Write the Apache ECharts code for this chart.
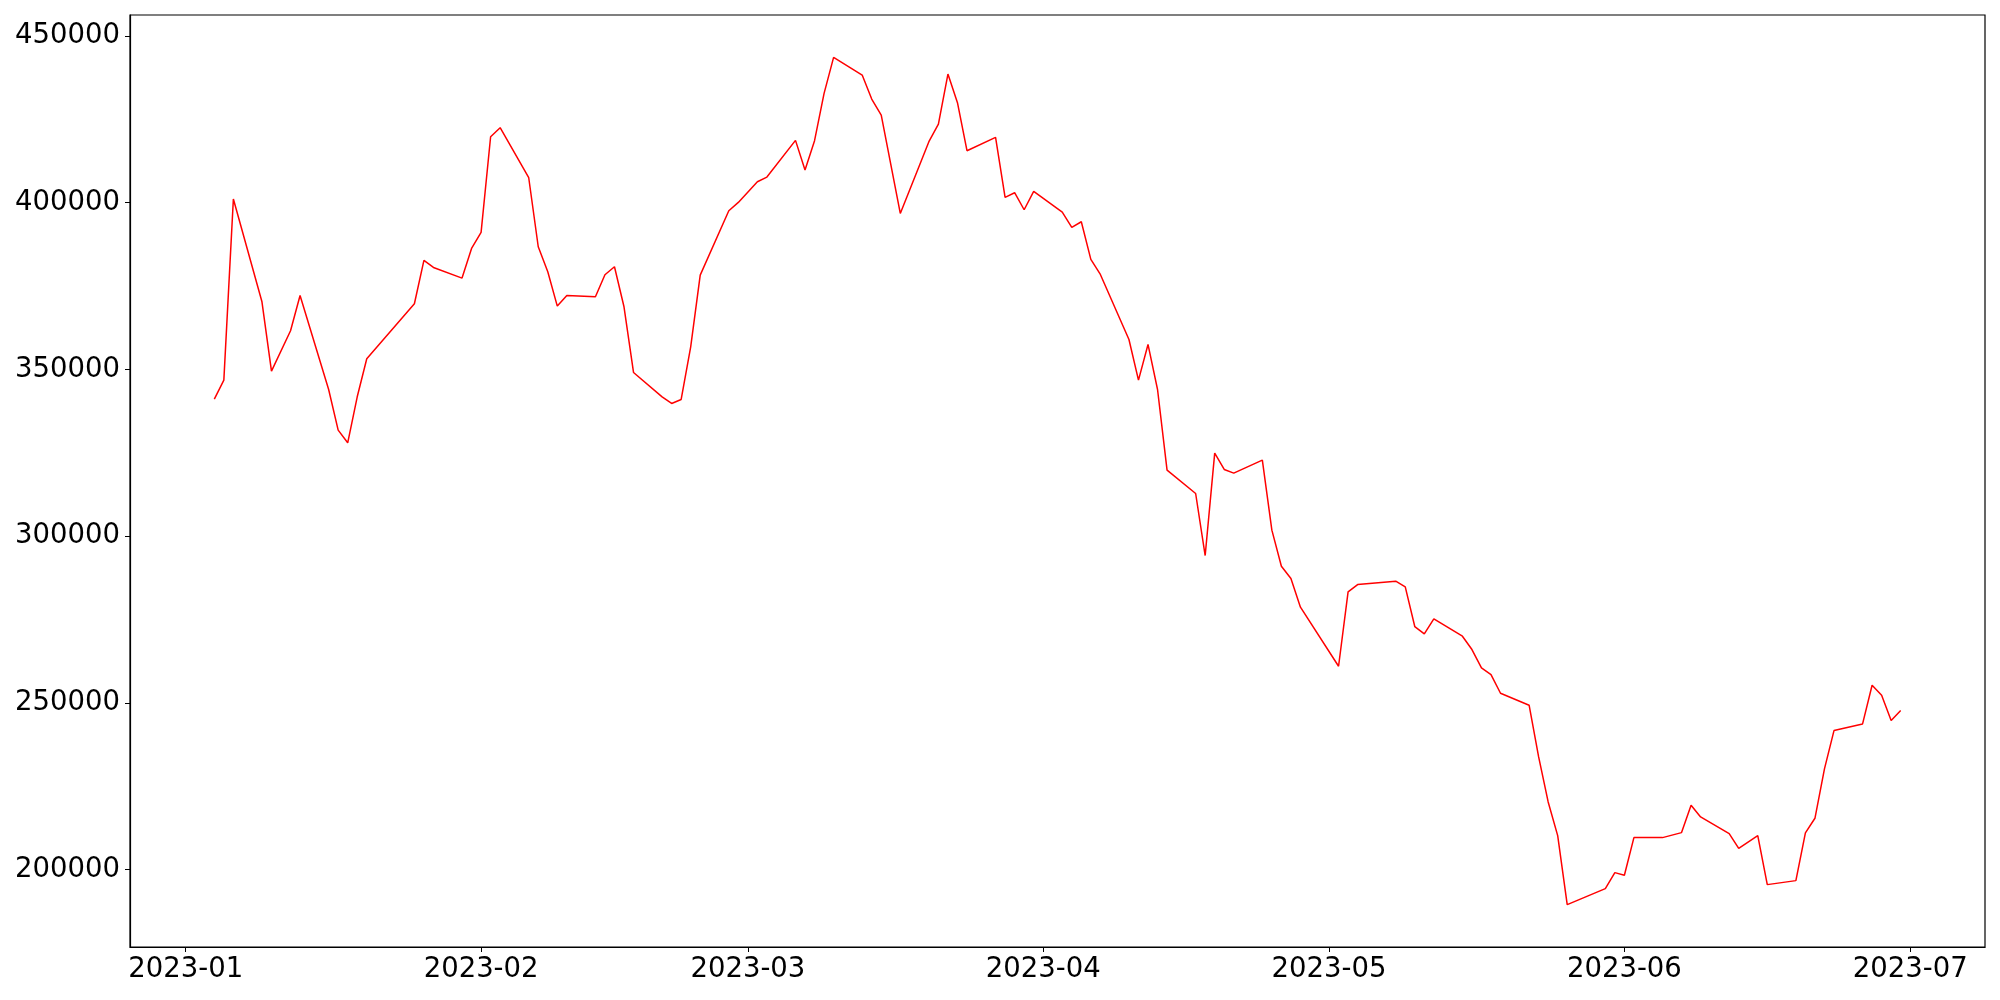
<!DOCTYPE html>
<html>
<head>
<meta charset="utf-8">
<script src="https://cdn.jsdelivr.net/npm/echarts@6/dist/echarts.min.js"></script>
<style>
html,body{margin:0;padding:0;background:#fff;}
#chart{width:2000px;height:1000px;}
</style>
</head>
<body>
<div id="chart"></div>
<script>
const dates = [
"2023-01-04","2023-01-05","2023-01-06","2023-01-09","2023-01-10","2023-01-12","2023-01-13",
"2023-01-16","2023-01-17","2023-01-18","2023-01-19","2023-01-20","2023-01-25","2023-01-26",
"2023-01-27","2023-01-30","2023-01-31","2023-02-01","2023-02-02","2023-02-03","2023-02-06",
"2023-02-07","2023-02-08","2023-02-09","2023-02-10","2023-02-13","2023-02-14","2023-02-15",
"2023-02-16","2023-02-17","2023-02-20","2023-02-21","2023-02-22","2023-02-23","2023-02-24",
"2023-02-27","2023-02-28","2023-03-02","2023-03-03","2023-03-06","2023-03-07","2023-03-08",
"2023-03-09","2023-03-10","2023-03-13","2023-03-14","2023-03-15","2023-03-17","2023-03-20",
"2023-03-21","2023-03-22","2023-03-23","2023-03-24","2023-03-27","2023-03-28","2023-03-29",
"2023-03-30","2023-03-31","2023-04-03","2023-04-04","2023-04-05","2023-04-06","2023-04-07",
"2023-04-10","2023-04-11","2023-04-12","2023-04-13","2023-04-14","2023-04-17","2023-04-18",
"2023-04-19","2023-04-20","2023-04-21","2023-04-24","2023-04-25","2023-04-26","2023-04-27",
"2023-04-28","2023-05-02","2023-05-03","2023-05-04","2023-05-08","2023-05-09","2023-05-10",
"2023-05-11","2023-05-12","2023-05-15","2023-05-16","2023-05-17","2023-05-18","2023-05-19",
"2023-05-22","2023-05-23","2023-05-24","2023-05-25","2023-05-26","2023-05-30","2023-05-31",
"2023-06-01","2023-06-02","2023-06-05","2023-06-07","2023-06-08","2023-06-09","2023-06-12",
"2023-06-13","2023-06-15","2023-06-16","2023-06-19","2023-06-20","2023-06-21","2023-06-22",
"2023-06-23","2023-06-26","2023-06-27","2023-06-28","2023-06-29","2023-06-30"
];
const values = [
341100,346800,401100,370300,349500,361600,372200,
344000,331800,328000,341800,353200,369700,382700,
380600,377400,386300,391100,419800,422500,407500,
386800,379300,369000,372200,371800,378400,380800,
368800,349100,341800,339800,341000,356800,378300,
397600,400100,406300,407700,418700,409800,418600,
432800,443600,438300,431100,426300,396800,418300,
423600,438600,430000,415600,419600,401600,403000,
397900,403400,397200,392600,394300,383000,378500,
359000,346800,357500,344000,319800,312800,294200,
324900,320000,318900,322800,301800,291000,287300,
278700,261000,283300,285500,286500,284800,272900,
270700,275200,270000,266000,260500,258500,252900,
249300,233800,220300,210200,189500,194300,199100,
198300,209600,209600,211100,219300,215800,210800,
206400,210200,195500,196700,211000,215400,230200,
241700,243700,255300,252300,244700,247700
];
const xTickLabels = ["2023-01","2023-02","2023-03","2023-04","2023-05","2023-06","2023-07"];
const yTickValues = [200000,250000,300000,350000,400000,450000];

function ts(s){ const p = s.split("-").map(Number); return Date.UTC(p[0], p[1]-1, p[2] || 1); }
const seriesData = dates.map((d,i)=>[ts(d), values[i]]);
const xs = seriesData.map(p=>p[0]);
const x0 = Math.min(...xs), x1 = Math.max(...xs), xr = x1 - x0;
const y0 = Math.min(...values), y1 = Math.max(...values), yr = y1 - y0;
const xTickValues = xTickLabels.map(ts);

const font = "'DejaVu Sans', sans-serif";
const chart = echarts.init(document.getElementById('chart'), null, {renderer:'canvas'});
chart.setOption({
  animation:false,
  backgroundColor:'#ffffff',
  grid:{left:130, right:15, top:15, bottom:53, show:true, borderColor:'#000', borderWidth:1.2, backgroundColor:'transparent'},
  xAxis:{
    type:'value',
    min:x0 - 0.05*xr, max:x1 + 0.05*xr,
    axisLine:{show:true, onZero:false, lineStyle:{color:'#000', width:1.2}},
    axisTick:{show:true, length:5, lineStyle:{color:'#000', width:1}, customValues:xTickValues},
    axisLabel:{show:true, margin:9, fontSize:27.5, fontFamily:font, color:'#000', customValues:xTickValues,
      formatter:function(v){ const d=new Date(v); return d.getUTCFullYear()+'-'+String(d.getUTCMonth()+1).padStart(2,'0'); }},
    splitLine:{show:false}
  },
  yAxis:{
    type:'value',
    min:y0 - 0.05*yr, max:y1 + 0.05*yr,
    axisLine:{show:true, onZero:false, lineStyle:{color:'#000', width:1.2}},
    axisTick:{show:true, length:5, lineStyle:{color:'#000', width:1}, customValues:yTickValues},
    axisLabel:{show:true, margin:10, fontSize:27.5, fontFamily:font, color:'#000', customValues:yTickValues,
      formatter:function(v){ return String(Math.round(v)); }},
    splitLine:{show:false}
  },
  series:[{
    type:'line',
    data:seriesData,
    showSymbol:false,
    symbol:'none',
    lineStyle:{color:'#ff0000', width:1.5},
    itemStyle:{color:'#ff0000'}
  }]
});
</script>
</body>
</html>
